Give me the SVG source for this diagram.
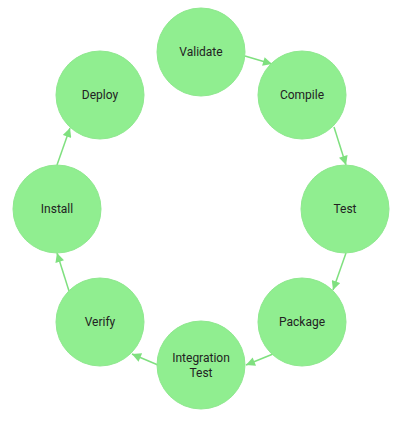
<svg xmlns="http://www.w3.org/2000/svg" width="402" height="423" viewBox="0 0 402 423">
<style>
.node circle{fill:#90ee90;stroke:#8fe88f;stroke-width:1}
.node text{font-family:Roboto,"Noto Sans","Liberation Sans",sans-serif;font-size:12px;fill:#222;text-anchor:middle;dominant-baseline:central}
.edges line{stroke:#7fe07f;stroke-width:1.5;fill:none}
</style>
<defs>
<marker id="arr" viewBox="0 0 10 10" refX="10" refY="5" markerUnits="userSpaceOnUse" markerWidth="10" markerHeight="9" orient="auto">
<path d="M0,0 L10,5 L0,10 z" fill="#7fe07f"/>
</marker>
</defs>
<rect width="402" height="423" fill="#ffffff"/>
<g class="edges">
<line x1="245" y1="56" x2="272" y2="64" marker-end="url(#arr)"/>
<line x1="334" y1="127" x2="346" y2="165" marker-end="url(#arr)"/>
<line x1="346" y1="253" x2="333" y2="290" marker-end="url(#arr)"/>
<line x1="273" y1="354" x2="246" y2="365" marker-end="url(#arr)"/>
<line x1="158" y1="365" x2="132" y2="354" marker-end="url(#arr)"/>
<line x1="69" y1="291" x2="57" y2="253" marker-end="url(#arr)"/>
<line x1="57" y1="165" x2="70" y2="128" marker-end="url(#arr)"/>
</g>
<g id="validate" class="node"><circle cx="201" cy="52" r="44"/><text x="201" y="52">Validate</text></g>
<g id="compile" class="node"><circle cx="302" cy="95" r="44"/><text x="302" y="95">Compile</text></g>
<g id="test" class="node"><circle cx="345" cy="209" r="44"/><text x="345" y="209">Test</text></g>
<g id="package" class="node"><circle cx="302" cy="322" r="44"/><text x="302" y="322">Package</text></g>
<g id="integration-test" class="node"><circle cx="201" cy="365" r="44"/><text x="201" y="357.5">Integration</text><text x="201" y="372.5">Test</text></g>
<g id="verify" class="node"><circle cx="100" cy="322" r="44"/><text x="100" y="322">Verify</text></g>
<g id="install" class="node"><circle cx="57" cy="209" r="44"/><text x="57" y="209">Install</text></g>
<g id="deploy" class="node"><circle cx="100" cy="95" r="44"/><text x="100" y="95">Deploy</text></g>
</svg>
